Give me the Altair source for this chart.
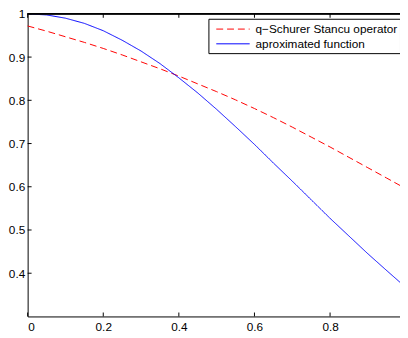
import altair as alt
import pandas as pd

# values
x_vals = [0.0, 0.05, 0.1, 0.15, 0.2, 0.25, 0.3, 0.35, 0.4, 0.45, 0.5,
          0.55, 0.6, 0.65, 0.7, 0.75, 0.8, 0.85, 0.9, 0.95, 0.985]
operator_vals = [0.972, 0.960, 0.947, 0.934, 0.920, 0.905, 0.889, 0.873, 0.856,
                 0.838, 0.820, 0.801, 0.781, 0.760, 0.738, 0.715, 0.692, 0.668,
                 0.644, 0.620, 0.603]
function_vals = [1.000, 0.9975, 0.990, 0.978, 0.961, 0.939, 0.914, 0.885, 0.852,
                 0.817, 0.779, 0.739, 0.698, 0.655, 0.613, 0.570, 0.527, 0.486,
                 0.445, 0.406, 0.379]
series_names = ["q\u2212Schurer Stancu operator", "aproximated function"]
series_colors = ["#ff0000", "#0000ff"]
x_ticks = [0, 0.2, 0.4, 0.6, 0.8]
y_ticks = [0.4, 0.5, 0.6, 0.7, 0.8, 0.9, 1.0]

W, H = 379, 308
FONT = "Liberation Sans"

rows = []
for name, vals in zip(series_names, [operator_vals, function_vals]):
    for xv, yv in zip(x_vals, vals):
        rows.append({"x": xv, "y": yv, "series": name})
df = pd.DataFrame(rows)

xscale = alt.Scale(domain=[0, 0.985], nice=False, zero=False)
yscale = alt.Scale(domain=[0.3, 1.0], nice=False, zero=False)

lines = alt.Chart(df).mark_line(strokeWidth=1).encode(
    x=alt.X("x:Q", scale=xscale,
            axis=alt.Axis(values=x_ticks, format=".1~f", title=None)),
    y=alt.Y("y:Q", scale=yscale,
            axis=alt.Axis(values=y_ticks, format=".1~f", title=None)),
    color=alt.Color("series:N", scale=alt.Scale(domain=series_names, range=series_colors), legend=None),
    strokeDash=alt.StrokeDash("series:N", scale=alt.Scale(domain=series_names, range=[[7, 4], [1, 0]]), legend=None),
    order=alt.Order("x:Q"),
)

xt = pd.DataFrame({"t": x_ticks})
yt = pd.DataFrame({"t": y_ticks})

xticks_bottom = alt.Chart(xt).mark_rule(color="black", strokeWidth=1).encode(
    x=alt.X("t:Q", scale=xscale), y=alt.value(H), y2=alt.value(H - 4))
xticks_top = alt.Chart(xt).mark_rule(color="black", strokeWidth=1).encode(
    x=alt.X("t:Q", scale=xscale), y=alt.value(0), y2=alt.value(4))
yticks_left = alt.Chart(yt).mark_rule(color="black", strokeWidth=1).encode(
    y=alt.Y("t:Q", scale=yscale), x=alt.value(0), x2=alt.value(4))
top_border = alt.Chart(xt).mark_rule(color="black", strokeWidth=1).encode(
    x=alt.value(0), x2=alt.value(W + 2), y=alt.value(0))

leg = pd.DataFrame({"series": series_names, "row": [0, 1]})
legend_box = alt.Chart(leg.head(1)).mark_rect(fill="white", stroke="black", strokeWidth=1).encode(
    x=alt.value(184.5), x2=alt.value(W + 0.5), y=alt.value(5.5), y2=alt.value(40.5))
legend_red = alt.Chart(leg.head(1)).mark_rule(color="#ff0000", strokeWidth=1, strokeDash=[7, 4]).encode(
    x=alt.value(192), x2=alt.value(226), y=alt.value(15.5))
legend_blue = alt.Chart(leg.head(1)).mark_rule(color="#0000ff", strokeWidth=1).encode(
    x=alt.value(192), x2=alt.value(226), y=alt.value(30.5))
legend_t1 = alt.Chart(leg.head(1)).mark_text(align="left", baseline="middle", font=FONT,
                                              fontSize=12, color="black").encode(
    x=alt.value(232), y=alt.value(15.5), text="series:N")
legend_t2 = alt.Chart(leg.tail(1)).mark_text(align="left", baseline="middle", font=FONT,
                                              fontSize=12, color="black").encode(
    x=alt.value(232), y=alt.value(30.5), text="series:N")

chart = alt.layer(
    lines, xticks_bottom, xticks_top, yticks_left, top_border,
    legend_box, legend_red, legend_blue, legend_t1, legend_t2,
).properties(
    width=W, height=H,
    autosize=alt.AutoSizeParams(type="none"),
    padding={"left": 20, "top": 3, "right": 0, "bottom": 20},
).configure_view(stroke=None).configure_axis(
    grid=False, ticks=False, domainColor="black", domainWidth=1,
    labelFont=FONT, labelFontSize=12, labelColor="black", labelPadding=3,
).configure_axisX(labelPadding=5)

chart.save("out.html", embed_options={"renderer": "svg", "actions": False})
